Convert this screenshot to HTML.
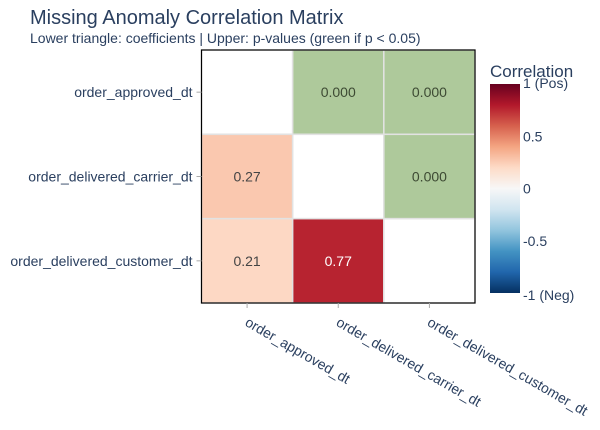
<!DOCTYPE html>
<html><head><meta charset="utf-8"><style>
body{margin:0;background:#fff;}
svg{font-family:"Liberation Sans",Arial,sans-serif;display:block}
</style></head><body>
<svg width="600" height="430" viewBox="0 0 600 430">
<defs>
<linearGradient id="rdbu" x1="0" y1="1" x2="0" y2="0">
<stop offset="0" stop-color="rgb(5,48,97)"/><stop offset="0.1" stop-color="rgb(33,102,172)"/>
<stop offset="0.2" stop-color="rgb(67,147,195)"/><stop offset="0.3" stop-color="rgb(146,197,222)"/>
<stop offset="0.4" stop-color="rgb(209,229,240)"/><stop offset="0.5" stop-color="rgb(247,247,247)"/>
<stop offset="0.6" stop-color="rgb(253,219,199)"/><stop offset="0.7" stop-color="rgb(244,165,130)"/>
<stop offset="0.8" stop-color="rgb(214,96,77)"/><stop offset="0.9" stop-color="rgb(178,24,43)"/>
<stop offset="1" stop-color="rgb(103,0,31)"/>
</linearGradient>
</defs>
<text x="30" y="24" font-size="20" fill="#2a3f5f">Missing Anomaly Correlation Matrix</text>
<text x="30" y="43" font-size="14" fill="#2a3f5f">Lower triangle: coefficients | Upper: p-values (green if p &lt; 0.05)</text>
<g id="cells"></g>
<rect x="201.5" y="50" width="273.5" height="253" fill="none" stroke="#000" stroke-width="1.2"/>
<g id="axes" font-size="14" fill="#2a3f5f"></g>
<text x="490" y="77" font-size="17" fill="#2a3f5f">Correlation</text>
<rect x="490" y="84" width="30" height="209" fill="url(#rdbu)"/>
<g id="cbticks" font-size="14" fill="#2a3f5f"></g>
</svg>
<script>
const labels=["order_approved_dt","order_delivered_carrier_dt","order_delivered_customer_dt"];
const corr=[[1,0.27,0.21],[0.27,1,0.77],[0.21,0.77,1]];
const pvals=[[null,"0.000","0.000"],[null,null,"0.000"],[null,null,null]];
const cbTicks=[1,0.5,0,-0.5,-1];
const cbLabels=["1 (Pos)","0.5","0","-0.5","-1 (Neg)"];
const NS="http://www.w3.org/2000/svg";
const X0=201.5,X1=475,Y0=50,Y1=303,n=labels.length;
const cw=(X1-X0)/n,ch=(Y1-Y0)/n;
const xs=i=>X0+i*cw, ys=j=>Y0+j*ch;
const cbY=v=>84+(1-v)/2*209;
const stops=[[5,48,97],[33,102,172],[67,147,195],[146,197,222],[209,229,240],[247,247,247],[253,219,199],[244,165,130],[214,96,77],[178,24,43],[103,0,31]];
function col(v){const t=Math.max(0,Math.min(1,(v+1)/2))*10;const k=Math.min(9,Math.floor(t)),f=t-k;const a=stops[k],b=stops[k+1];return`rgb(${a.map((c,i)=>Math.round(c+(b[i]-c)*f)).join(",")})`;}
function mk(tag,attrs,parent,txt){const e=document.createElementNS(NS,tag);for(const k in attrs)e.setAttribute(k,attrs[k]);if(txt!=null)e.textContent=txt;parent.appendChild(e);return e;}
const cells=document.getElementById('cells'),axes=document.getElementById('axes');
for(let r=0;r<n;r++)for(let c=0;c<n;c++){
 let fill="#ffffff",txt=null,tc="#444";
 if(c<r){fill=col(corr[r][c]);txt=corr[r][c].toFixed(2);tc=corr[r][c]>0.6?"#fff":"#444";}
 else if(c>r&&pvals[r][c]!=null){fill=parseFloat(pvals[r][c])<0.05?"#aec99b":"#ffffff";txt=pvals[r][c];tc="#3d4a33";}
 const rc=mk('rect',{x:xs(c),y:ys(r),width:cw,height:ch,fill:fill,stroke:"#e2e2e2","stroke-width":1.5},cells);
 
 
 if(txt){const t=mk('text',{x:xs(c)+cw/2,y:ys(r)+ch/2+5,"text-anchor":"middle","font-size":14,fill:tc},cells,txt);
 
 }
}
labels.forEach((l,i)=>{
 const cy=ys(i)+ch/2;
 mk('line',{x1:X0-5,x2:X0,y1:cy,y2:cy,stroke:"#aaa"},axes);
 const t=mk('text',{x:X0-9,y:cy+5,"text-anchor":"end"},axes,l);
 
 
 const cx=xs(i)+cw/2;
 mk('line',{x1:cx,x2:cx,y1:Y1,y2:Y1+5,stroke:"#aaa"},axes);
 const u=mk('text',{x:0,y:0,transform:`translate(${cx-3},${Y1+22}) rotate(30)`},axes,l);
 
 
});
const cbt=document.getElementById('cbticks');
cbTicks.forEach((v,i)=>{
 const t=mk('text',{x:523,y:cbY(v)+(i==0?4:i==cbTicks.length-1?7:5)},cbt,cbLabels[i]);
 
 
});
</script>
</body></html>
